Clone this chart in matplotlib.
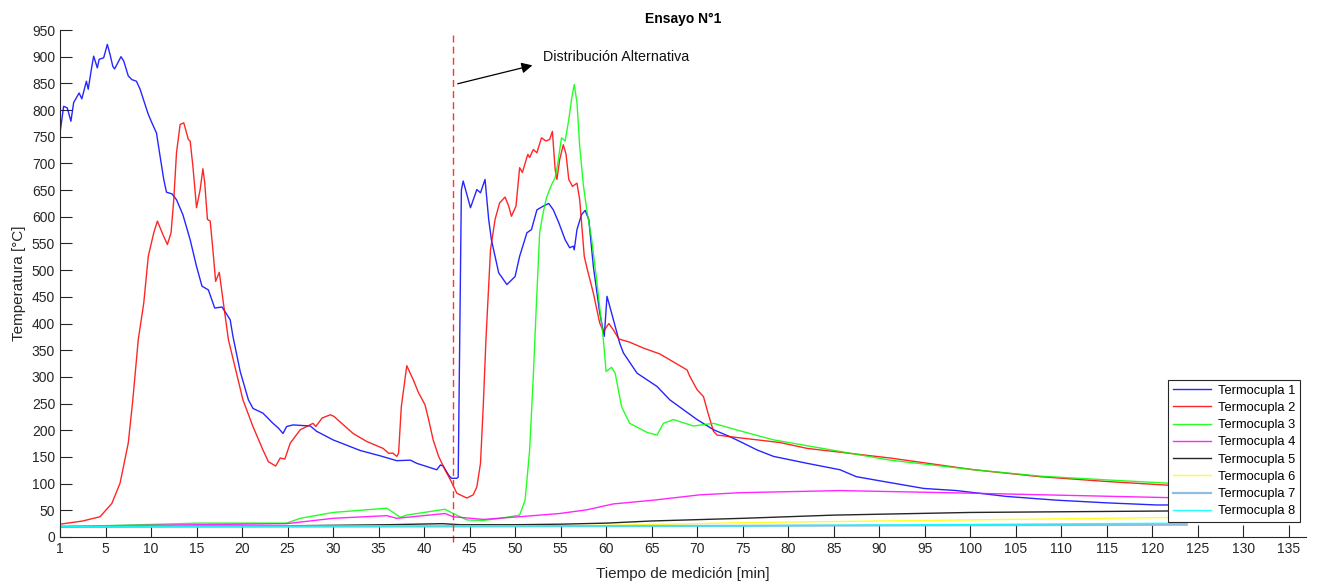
import matplotlib
matplotlib.use("Agg")
import matplotlib.pyplot as plt

plt.rcParams['font.family'] = ['Liberation Sans', 'DejaVu Sans']

# ---------------- data ----------------
t1_x = [0, 0.4, 0.8, 1.2, 1.5, 2.1, 2.4, 2.9, 3.1, 3.5, 3.7, 4.1, 4.3, 4.8, 5.2, 5.5, 5.8, 6.0, 6.7, 7.0,
        7.5, 7.9, 8.4, 8.8, 9.2, 9.7, 10.1, 10.6, 11.0, 11.4, 11.7, 12.3, 12.8, 13.5, 14.3, 15.0, 15.6, 16.3,
        17.0, 17.8, 18.7, 19.0, 19.8, 20.7, 21.2, 22.3, 23.4, 24.0, 24.5, 24.9, 25.6, 27.5, 28.2, 30.0, 33.0,
        35.2, 37.0, 38.5, 39.2, 41.4, 41.8, 42.1, 42.7, 43.0, 43.6, 43.75, 44.1, 44.3, 45.1, 45.8, 46.2, 46.7,
        47.1, 47.4, 48.2, 49.1, 50.0, 50.5, 51.3, 51.8, 52.4, 53.1, 53.7, 54.2, 54.8, 55.5, 56.0, 56.4, 56.5,
        56.8, 57.3, 57.7, 58.1, 58.6, 59.3, 59.8, 60.1, 60.6, 61.5, 61.9, 63.4, 65.6, 67.0, 70.0, 71.8, 73.6,
        74.7, 76.6, 78.4, 82.1, 85.7, 87.5, 90.5, 94.9, 98.5, 104.0, 109.5, 115.0, 120.5, 123.8]
t1_y = [757, 807, 804, 779, 814, 832, 821, 854, 839, 882, 901, 879, 895, 898, 923, 904, 882, 877, 900, 892,
        864, 857, 854, 839, 818, 792, 776, 757, 713, 670, 646, 643, 632, 604, 557, 507, 470, 463,
        429, 431, 407, 376, 310, 257, 241, 232, 213, 204, 194, 207, 210, 208, 198, 182, 162,
        152, 143, 144, 138, 126, 135, 133, 116, 110, 110, 112, 650, 667, 617, 651, 645, 670,
        595, 557, 495, 473, 488, 526, 570, 576, 613, 620, 625, 613, 589, 557, 542, 545, 538,
        576, 604, 612, 595, 507, 420, 376, 451, 420, 363, 345, 307, 282, 257, 220, 201, 188,
        179, 163, 151, 138, 126, 113, 104, 91, 87, 76, 69, 64, 60, 60]

t2_x = [0, 2.5, 4.4, 5.7, 6.6, 7.5, 8.0, 8.6, 9.2, 9.7, 10.3, 10.7, 11.3, 11.8, 12.2, 12.5, 12.8, 13.2, 13.6,
        14.1, 14.3, 14.6, 15.0, 15.4, 15.7, 15.9, 16.2, 16.5, 16.8, 17.1, 17.5, 17.9, 18.5, 20.1, 21.2, 22.3,
        22.9, 23.7, 24.2, 24.7, 25.3, 26.4, 27.8, 28.1, 28.8, 29.7, 30.1, 32.2, 33.7, 35.5, 36.1, 36.6, 37.0,
        37.2, 37.5, 38.1, 38.8, 39.4, 40.1, 40.5, 41.0, 41.6, 42.3, 42.9, 43.6, 44.7, 45.4, 45.8, 46.2, 46.5,
        46.8, 47.3, 47.8, 48.3, 48.9, 49.3, 49.6, 50.1, 50.5, 50.8, 51.4, 51.6, 52.0, 52.4, 52.9, 53.4, 53.8,
        54.1, 54.4, 54.6, 54.9, 55.3, 55.6, 55.9, 56.3, 56.8, 57.1, 57.6, 57.9, 58.6, 59.3, 59.7, 60.3, 60.8,
        61.4, 62.6, 64.1, 65.9, 68.9, 69.2, 70.0, 70.7, 71.2, 71.8, 72.2, 73.6, 79.1, 82.1, 91.2, 100.4,
        107.7, 115.0, 123.8]
t2_y = [24, 30, 38, 63, 101, 176, 257, 370, 438, 526, 570, 592, 567, 548, 570, 632, 720, 773, 776,
        745, 742, 695, 617, 651, 690, 664, 595, 592, 538, 479, 496, 445, 370, 257, 207, 163,
        141, 133, 148, 146, 176, 201, 213, 207, 223, 229, 226, 194, 179, 166, 157, 157, 151,
        157, 244, 321, 295, 270, 248, 220, 182, 151, 126, 107, 82, 73, 79, 94, 138, 244,
        370, 538, 595, 626, 637, 620, 601, 620, 692, 683, 717, 711, 726, 720, 748, 742, 745,
        760, 689, 670, 707, 735, 717, 670, 657, 663, 632, 526, 504, 457, 401, 385, 400, 388,
        371, 365, 354, 343, 313, 301, 276, 263, 232, 198, 191, 188, 177, 166, 148, 126,
        113, 104, 95]

t3_x = [0, 15.4, 24.9, 26.4, 30.0, 35.9, 37.4, 38.1, 42.3, 43.2, 44.7, 46.5, 48.4, 50.5, 51.1, 51.6, 52.0,
        52.3, 52.7, 53.0, 53.3, 53.5, 54.0, 54.4, 54.7, 55.1, 55.5, 55.9, 56.2, 56.5, 56.8, 57.1, 57.5, 57.9,
        58.4, 59.0, 59.7, 60.0, 60.6, 61.0, 61.7, 62.6, 64.5, 65.6, 66.3, 67.4, 68.5, 69.6, 71.8, 74.7,
        78.4, 91.2, 100.4, 107.7, 115.0, 123.8]
t3_y = [19, 26, 26, 35, 46, 54, 37, 41, 52, 44, 32, 31, 35, 41, 69, 163, 300,
        420, 570, 600, 625, 638, 660, 673, 701, 748, 742, 782, 820, 848, 814, 732, 660, 610,
        560, 476, 370, 310, 318, 307, 244, 213, 196, 191, 213, 220, 214, 208, 213, 199,
        182, 144, 126, 114, 107, 99]

t4_x = [0, 15.0, 24.9, 30.0, 35.9, 37.0, 42.3, 43.2, 46.5, 50.5, 54.9, 57.9, 60.8, 65.2, 70.3, 74.7, 85.7,
        100.4, 123.8]
t4_y = [20, 23, 25, 35, 40, 35, 44, 38, 33, 38, 44, 51, 62, 69, 79, 83, 87, 82, 73]

t5_x = [0, 25, 36, 42, 44, 50, 55, 60, 65, 75, 85, 100, 123.8]
t5_y = [19, 21, 23, 25, 23, 23, 24, 26, 30, 35, 41, 46, 49]

t6_x = [0, 50, 60, 70, 75, 100, 123.8]
t6_y = [19, 20, 22, 25, 27, 32, 37]

t7_x = [0, 50, 75, 123.8]
t7_y = [19, 20, 21, 23]

t8_x = [0, 50, 75, 123.8]
t8_y = [20, 21, 21, 26]

labels = ['Termocupla 1', 'Termocupla 2', 'Termocupla 3', 'Termocupla 4',
          'Termocupla 5', 'Termocupla 6', 'Termocupla 7', 'Termocupla 8']
colors = ['#0000ff', '#ff0000', '#00ff00', '#ff00ff', '#000000', '#ffff00', '#7fb2dd', '#00ffff']

x_ticks = list(range(0, 136, 5))
x_ticklabels = ['1'] + [str(v) for v in range(5, 136, 5)]
y_ticks = list(range(0, 951, 50))

marker_x = 43.2
arrow_start = (43.4, 848)
arrow_end = (52.2, 885)
annot_text = 'Distribución Alternativa'

# ---------------- plot ----------------
W, H = 1317, 582
fig = plt.figure(figsize=(W / 100, H / 100), dpi=100)
ax = fig.add_axes([60 / W, 45 / H, (1306 - 60) / W, (537 - 30) / H])

series = [(t1_x, t1_y), (t2_x, t2_y), (t3_x, t3_y), (t4_x, t4_y),
          (t5_x, t5_y), (t6_x, t6_y), (t7_x, t7_y), (t8_x, t8_y)]
for (xs, ys), c, lab in zip(series, colors, labels):
    lw = 1.6 if lab == 'Termocupla 7' else 1.0
    ax.plot(xs, ys, color=c, lw=lw, label=lab, alpha=0.85)

ax.plot([marker_x, marker_x], [-10, 942], color='#ff3333', lw=1.0, ls=(0, (5, 3)), clip_on=False)
ax.annotate('', xy=arrow_end, xytext=arrow_start,
            arrowprops=dict(arrowstyle='-|>', color='black', lw=0.9, mutation_scale=16))
ax.text(53.1, 900, annot_text, fontsize=10.3, va='center', ha='left', color='#111111')

ax.set_xlim(0, 136.9)
ax.set_ylim(0, 950)
ax.set_xticks(x_ticks)
ax.set_xticklabels(x_ticklabels)
ax.set_yticks(y_ticks)

for s in ['top', 'right']:
    ax.spines[s].set_visible(False)
for s in ['left', 'bottom']:
    ax.spines[s].set_color('#262626')
    ax.spines[s].set_linewidth(0.8)
ax.tick_params(direction='in', length=8.5, width=0.8, color='#262626',
               labelcolor='#262626', labelsize=10)

ax.set_title('Ensayo N°1', fontsize=10, fontweight='bold', color='black', pad=5)
ax.set_xlabel('Tiempo de medición [min]', fontsize=11, color='#262626', labelpad=8)
ax.set_ylabel('Temperatura [°C]', fontsize=11, color='#262626', labelpad=4)

leg = ax.legend(loc='lower right', bbox_to_anchor=(0.995, 0.03), fontsize=9.3, frameon=True,
                fancybox=False, framealpha=1, edgecolor='#262626', handlelength=3.0,
                labelspacing=0.4, borderpad=0.35, handletextpad=0.5, borderaxespad=0)
leg.get_frame().set_linewidth(0.8)

fig.savefig('out.png', dpi=100)
